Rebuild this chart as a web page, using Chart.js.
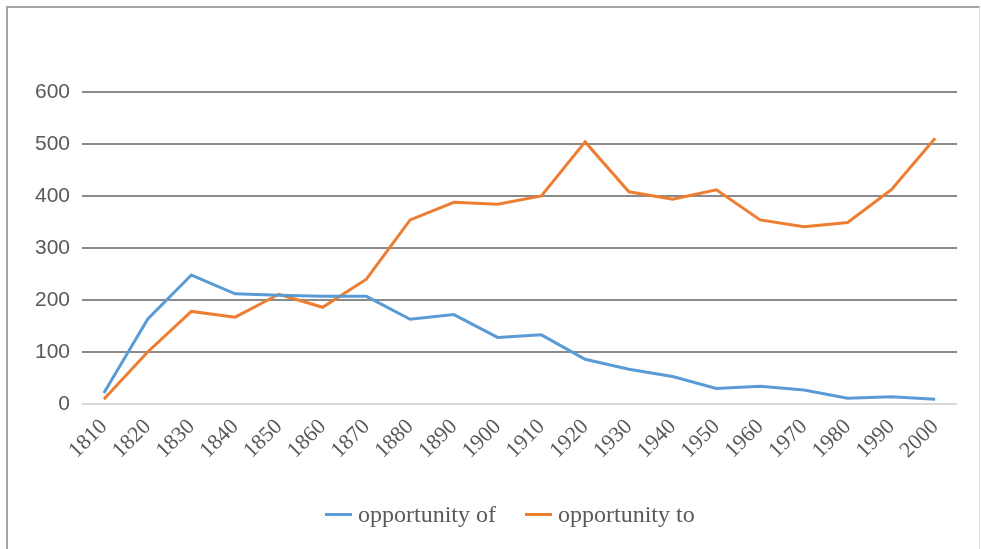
<!DOCTYPE html>
<html>
<head>
<meta charset="utf-8">
<script src="https://cdn.jsdelivr.net/npm/chart.js@4/dist/chart.umd.min.js"></script>
<style>
  html, body { margin: 0; padding: 0; background: #fff; }
  #wrap { position: relative; width: 981px; height: 549px; }
  #frame {
    position: absolute; left: 6px; top: 6px; width: 971px; height: 545px;
    border-left: 2px solid #a6a6a6; border-top: 2px solid #a6a6a6;
    border-right: 1px solid #e0e0e0; pointer-events: none;
  }
  #legend {
    position: absolute; left: 325px; top: 498px; height: 32px;
    display: flex; align-items: center;
    font-family: "Liberation Serif", "Times New Roman", serif;
    font-size: 24px; color: #595959; white-space: nowrap;
  }
  #legend .item { display: flex; align-items: center; }
  #legend .item + .item { margin-left: 29px; }
  #legend .swatch { width: 27px; height: 3px; margin-right: 6px; }
</style>
</head>
<body>
<div id="wrap">
  <canvas id="usage-chart" width="981" height="549"></canvas>
  <div id="legend"></div>
  <div id="frame"></div>
</div>
<script>
const years = ["1810", "1820", "1830", "1840", "1850", "1860", "1870", "1880", "1890", "1900",
  "1910", "1920", "1930", "1940", "1950", "1960", "1970", "1980", "1990", "2000"];
const opportunityOf = [21, 163, 248, 212, 209, 207, 207, 163, 172, 128,
  133, 86, 67, 53, 30, 34, 27, 11, 14, 9];
const opportunityTo = [9, 100, 178, 167, 211, 186, 240, 354, 388, 384,
  400, 504, 408, 394, 412, 354, 341, 349, 412, 511];
const yTicks = [0, 100, 200, 300, 400, 500, 600];

const blue = "#5b9bd5";
const orange = "#ed7d31";

const ctx = document.getElementById("usage-chart");

const chart = new Chart(ctx, {
  type: "line",
  data: {
    labels: years,
    datasets: [
      {
        label: "opportunity of",
        data: opportunityOf,
        borderColor: blue,
        backgroundColor: blue,
        borderWidth: 3,
        pointRadius: 0,
        tension: 0,
      },
      {
        label: "opportunity to",
        data: opportunityTo,
        borderColor: orange,
        backgroundColor: orange,
        borderWidth: 3,
        pointRadius: 0,
        tension: 0,
      },
    ],
  },
  options: {
    responsive: false,
    animation: false,
    layout: { padding: { top: 92, right: 24, bottom: 56, left: 0 } },
    plugins: {
      tooltip: { enabled: false },
      legend: { display: false },
    },
    scales: {
      x: {
        offset: true,
        grid: { display: false },
        border: { display: false },
        ticks: {
          minRotation: 45,
          maxRotation: 45,
          padding: 2,
          color: "#595959",
          font: { family: "'Liberation Serif', 'Times New Roman', serif", size: 22 },
        },
        afterFit: (scale) => { scale.height = 89; },
      },
      y: {
        min: 0,
        max: 600,
        afterBuildTicks: (scale) => { scale.ticks = yTicks.map((v) => ({ value: v })); },
        grid: {
          drawTicks: false,
          lineWidth: 2,
          color: (c) => (c.tick && c.tick.value === 0 ? "#d9d9d9" : "#8a8a8a"),
        },
        border: { display: false },
        ticks: {
          padding: 12,
          color: "#595959",
          font: { family: "'Liberation Sans', Arial, sans-serif", size: 21 },
        },
        afterFit: (scale) => { scale.width = 82; },
      },
    },
  },
});

// legend row below the axis, built from the datasets
const legendEl = document.getElementById("legend");
chart.data.datasets.forEach((ds) => {
  const item = document.createElement("div");
  item.className = "item";
  const swatch = document.createElement("span");
  swatch.className = "swatch";
  swatch.style.background = ds.borderColor;
  const text = document.createElement("span");
  text.textContent = ds.label;
  item.appendChild(swatch);
  item.appendChild(text);
  legendEl.appendChild(item);
});
</script>
</body>
</html>
